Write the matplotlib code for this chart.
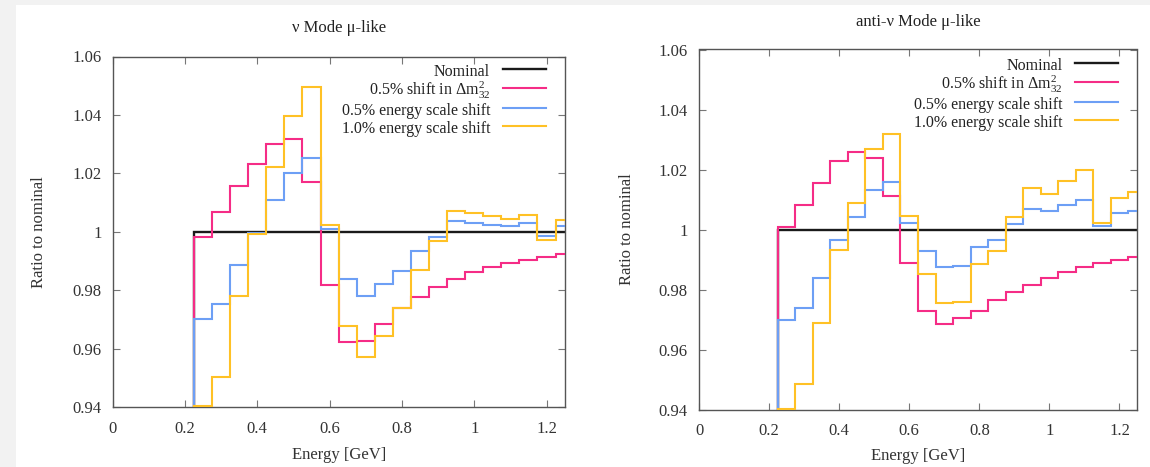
import numpy as np
import matplotlib
matplotlib.use("Agg")
import matplotlib.pyplot as plt
from matplotlib.patches import Rectangle
from matplotlib.lines import Line2D

# ---------------- data ----------------
energy_centers = [0.25, 0.30, 0.35, 0.40, 0.45, 0.50, 0.55, 0.60, 0.65, 0.70, 0.75,
                  0.80, 0.85, 0.90, 0.95, 1.00, 1.05, 1.10, 1.15, 1.20, 1.25]
bin_width = 0.05

nominal = [1.0] * len(energy_centers)

# neutrino mode
nu_dm32 = [0.9983, 1.0066, 1.0158, 1.0232, 1.0299, 1.0317, 1.0169, 0.9817, 0.9621, 0.9626, 0.9683,
           0.9738, 0.9777, 0.9810, 0.9838, 0.9863, 0.9878, 0.9892, 0.9903, 0.9914, 0.9924]
nu_es05 = [0.9700, 0.9752, 0.9886, 0.9997, 1.0109, 1.0200, 1.0251, 1.0008, 0.9838, 0.9781, 0.9821,
           0.9866, 0.9934, 0.9981, 1.0037, 1.0029, 1.0023, 1.0021, 1.0029, 0.9986, 1.0021]
nu_es10 = [0.9403, 0.9503, 0.9780, 0.9991, 1.0220, 1.0397, 1.0497, 1.0023, 0.9678, 0.9570, 0.9644,
           0.9738, 0.9869, 0.9968, 1.0071, 1.0063, 1.0054, 1.0043, 1.0057, 0.9972, 1.0040]

# anti-neutrino mode
anu_dm32 = [1.0009, 1.0083, 1.0155, 1.0227, 1.0259, 1.0239, 1.0111, 0.9889, 0.9730, 0.9686, 0.9705,
            0.9727, 0.9764, 0.9792, 0.9816, 0.9838, 0.9858, 0.9875, 0.9889, 0.9900, 0.9909]
anu_es05 = [0.9698, 0.9740, 0.9840, 0.9964, 1.0042, 1.0131, 1.0159, 1.0022, 0.9928, 0.9875, 0.9877,
            0.9942, 0.9964, 1.0020, 1.0068, 1.0061, 1.0081, 1.0100, 1.0011, 1.0054, 1.0062]
anu_es10 = [0.9403, 0.9484, 0.9687, 0.9931, 1.0090, 1.0267, 1.0317, 1.0045, 0.9853, 0.9756, 0.9760,
            0.9886, 0.9929, 1.0042, 1.0137, 1.0120, 1.0163, 1.0198, 1.0023, 1.0104, 1.0126]

series_labels = ["Nominal", r"0.5% shift in $\Delta\mathrm{m}^{2}_{32}$",
                 "0.5% energy scale shift", "1.0% energy scale shift"]
panel_titles = ["\u03bd Mode \u03bc-like", "anti-\u03bd Mode \u03bc-like"]
x_ticks = [0, 0.2, 0.4, 0.6, 0.8, 1.0, 1.2]
x_tick_labels = ["0", "0.2", "0.4", "0.6", "0.8", "1", "1.2"]
y_ticks = [0.94, 0.96, 0.98, 1.00, 1.02, 1.04, 1.06]
y_tick_labels = ["0.94", "0.96", "0.98", "1", "1.02", "1.04", "1.06"]
x_label = "Energy [GeV]"
y_label = "Ratio to nominal"

# ---------------- style ----------------
plt.rcParams['font.family'] = ['Liberation Serif', 'DejaVu Serif']
plt.rcParams['mathtext.fontset'] = 'custom'
plt.rcParams['mathtext.rm'] = 'Liberation Serif'
plt.rcParams['mathtext.it'] = 'Liberation Serif:italic'
plt.rcParams['mathtext.bf'] = 'Liberation Serif:bold'
plt.rcParams['font.size'] = 12

colors = ["#1a1a1a", "#f52c86", "#6d9ff5", "#ffc125"]
lws = [1.7, 1.5, 1.5, 1.5]

edges = np.concatenate([np.array(energy_centers) - bin_width / 2,
                        [energy_centers[-1] + bin_width / 2]])

fig = plt.figure(figsize=(11.5, 4.67), dpi=100)
fig.patch.set_facecolor("#f2f2f2")
fig.patches.append(Rectangle((16 / 1150, 0), 1 - 16 / 1150, 1 - 4.5 / 467,
                             transform=fig.transFigure, facecolor="white",
                             edgecolor="none", zorder=-10))

ax_rects = [[112.7 / 1150, 1 - 407 / 467, (564.6 - 112.7) / 1150, (407 - 56.5) / 467],
            [699 / 1150, 1 - 409.5 / 467, (1137 - 699) / 1150, (409.5 - 49.5) / 467]]
panel_data = [[nominal, nu_dm32, nu_es05, nu_es10],
              [nominal, anu_dm32, anu_es05, anu_es10]]
title_pads = [18, 17]
leg_anchor = [(0.959, 0.985), (0.957, 0.982)]
xlabel_y = [-0.115, -0.108]
ylabel_x = [-0.145, -0.147]

for i in range(2):
    ax = fig.add_axes(ax_rects[i])
    ax.set_facecolor("white")
    for j, vals in enumerate(panel_data[i]):
        ax.stairs(vals, edges, baseline=0, fill=False, color=colors[j],
                  linewidth=lws[j], label=series_labels[j], zorder=2 + j)
    ax.set_xlim(0, 1.25)
    ax.set_ylim(0.94, 1.06)
    ax.set_xticks(x_ticks)
    ax.set_xticklabels(x_tick_labels)
    ax.set_yticks(y_ticks)
    ax.set_yticklabels(y_tick_labels)
    ax.tick_params(direction="in", length=5, width=0.8, top=True, right=True,
                   color="#777777", labelcolor="#333333", labelsize=12)
    ax.tick_params(axis="x", pad=10)
    ax.tick_params(axis="y", pad=8)
    for s in ax.spines.values():
        s.set_color("#555555")
        s.set_linewidth(1.0)
    ax.set_title(panel_titles[i], fontsize=12, color="#222222", pad=title_pads[i])
    ax.set_xlabel(x_label, fontsize=12, color="#333333")
    ax.set_ylabel(y_label, fontsize=12, color="#333333")
    ax.xaxis.set_label_coords(0.5, xlabel_y[i])
    ax.yaxis.set_label_coords(ylabel_x[i], 0.5)
    hl = [Line2D([], [], color=colors[j], linewidth=lws[j]) for j in range(4)]
    leg = ax.legend(hl, series_labels, loc="upper right", bbox_to_anchor=leg_anchor[i],
                    frameon=False, markerfirst=False, fontsize=11.5, borderpad=0,
                    handlelength=2.7, handleheight=1.25, handletextpad=0.8,
                    labelspacing=0.0, borderaxespad=0)
    for t in leg.get_texts():
        t.set_color("#222222")

fig.savefig("out.png", dpi=100, facecolor=fig.get_facecolor())
